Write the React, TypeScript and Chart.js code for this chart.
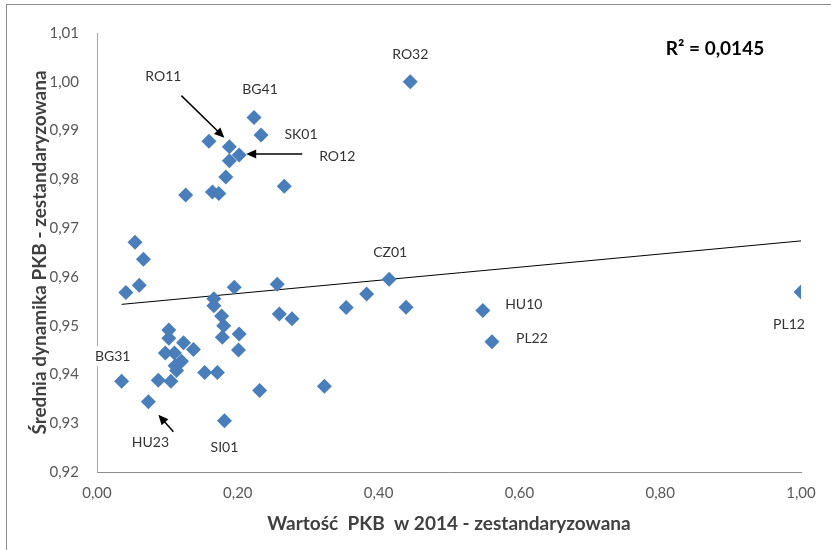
import React, { useEffect, useRef } from 'react';
import { Chart, registerables } from 'chart.js';

Chart.register(...registerables);

// ---- data ----
const regionLabels = [
  'RO32', 'BG41', 'SK01', '', 'RO11', 'RO12', '', '', '', '', '', '',
  '', '', '', '', '', '', '', '', 'CZ01', '', '', '', 'HU10', 'PL22', 'PL12',
  '', '', '', '', '', '', '', '', '', '', '', '', '', '', '', '',
  'BG31', '', '', '', '', 'HU23', 'SI01', '', '',
];
const gdp2014 = [
  0.445, 0.223, 0.233, 0.159, 0.188, 0.202, 0.188, 0.183, 0.266, 0.126, 0.164, 0.173,
  0.054, 0.066, 0.060, 0.041, 0.166, 0.166, 0.195, 0.256, 0.415, 0.383, 0.354, 0.439, 0.548, 0.561, 1.000,
  0.259, 0.277, 0.177, 0.180, 0.178, 0.202, 0.201, 0.102, 0.102, 0.123, 0.137, 0.097, 0.110, 0.120, 0.111, 0.113,
  0.035, 0.087, 0.105, 0.153, 0.171, 0.073, 0.181, 0.231, 0.323,
];
const gdpDynamics = [
  1.0000, 0.9927, 0.9891, 0.9878, 0.9867, 0.9850, 0.9838, 0.9805, 0.9786, 0.9768, 0.9774, 0.9771,
  0.9671, 0.9636, 0.9583, 0.9568, 0.9555, 0.9541, 0.9579, 0.9585, 0.9595, 0.9565, 0.9537, 0.9538, 0.9531, 0.9467, 0.9569,
  0.9524, 0.9514, 0.9520, 0.9500, 0.9476, 0.9483, 0.9450, 0.9491, 0.9474, 0.9465, 0.9451, 0.9444, 0.9444, 0.9427, 0.9418, 0.9408,
  0.9386, 0.9388, 0.9386, 0.9404, 0.9404, 0.9344, 0.9305, 0.9367, 0.9376,
];
const xTickValues = [0, 0.2, 0.4, 0.6, 0.8, 1.0];
const xTickLabels = ['0,00', '0,20', '0,40', '0,60', '0,80', '1,00'];
const yTickValues = [0.92, 0.93, 0.94, 0.95, 0.96, 0.97, 0.98, 0.99, 1.0, 1.01];
const yTickLabels = ['0,92', '0,93', '0,94', '0,95', '0,96', '0,97', '0,98', '0,99', '1,00', '1,01'];
const xAxisTitle = 'Wartość  PKB  w 2014 - zestandaryzowana';
const yAxisTitle = 'Średnia dynamika PKB - zestandaryzowana';
const r2Text = 'R² = 0,0145';

// ---- label placement (pixel offsets from the labelled point) ----
const labelPlacement: Record<string, { dx: number; dy: number; bg?: boolean; arrow?: [number, number, number, number] }> = {
  RO32: { dx: 0, dy: -27 },
  BG41: { dx: 6, dy: -28 },
  SK01: { dx: 40, dy: 0 },
  RO11: { dx: -66, dy: -70, arrow: [-48, -51, -5, -9] },
  RO12: { dx: 98, dy: 2, arrow: [63, -1, 7, -1] },
  CZ01: { dx: 1, dy: -27 },
  HU10: { dx: 41, dy: -6 },
  PL22: { dx: 40, dy: -3 },
  PL12: { dx: -12, dy: 32 },
  BG31: { dx: -9, dy: -25, bg: true },
  HU23: { dx: 2, dy: 41, arrow: [25, 30, 10, 13] },
  SI01: { dx: 0, dy: 27 },
};

const FONT = 'Lato, "Open Sans", sans-serif';

function regression(xs: number[], ys: number[]) {
  const n = xs.length;
  const mx = xs.reduce((a, b) => a + b, 0) / n;
  const my = ys.reduce((a, b) => a + b, 0) / n;
  let sxy = 0, sxx = 0;
  for (let i = 0; i < n; i++) {
    sxy += (xs[i] - mx) * (ys[i] - my);
    sxx += (xs[i] - mx) ** 2;
  }
  const b = sxy / sxx;
  return { a: my - b * mx, b };
}

const annotationPlugin = {
  id: 'pointAnnotations',
  afterDatasetsDraw(chart: any) {
    const ctx = chart.ctx as CanvasRenderingContext2D;
    const meta = chart.getDatasetMeta(1);
    ctx.save();
    ctx.font = `14px ${FONT}`;
    ctx.textAlign = 'center';
    ctx.textBaseline = 'middle';
    regionLabels.forEach((name, i) => {
      if (!name) return;
      const p = labelPlacement[name];
      const el = meta.data[i];
      if (!p || !el) return;
      const lx = el.x + p.dx;
      const ly = el.y + p.dy;
      if (p.bg) {
        const w = ctx.measureText(name).width + 6;
        ctx.fillStyle = '#ffffff';
        ctx.fillRect(lx - w / 2, ly - 10, w, 20);
      }
      ctx.fillStyle = '#333333';
      ctx.fillText(name, lx, ly);
      if (p.arrow) {
        const [sx, sy, tx, ty] = p.arrow;
        const x0 = el.x + sx, y0 = el.y + sy, x1 = el.x + tx, y1 = el.y + ty;
        const ang = Math.atan2(y1 - y0, x1 - x0);
        const head = 10, half = 4.5;
        ctx.strokeStyle = '#000000';
        ctx.lineWidth = 1.5;
        ctx.beginPath();
        ctx.moveTo(x0, y0);
        ctx.lineTo(x1 - Math.cos(ang) * head * 0.8, y1 - Math.sin(ang) * head * 0.8);
        ctx.stroke();
        ctx.fillStyle = '#000000';
        ctx.beginPath();
        ctx.moveTo(x1, y1);
        ctx.lineTo(x1 - Math.cos(ang) * head + Math.sin(ang) * half, y1 - Math.sin(ang) * head - Math.cos(ang) * half);
        ctx.lineTo(x1 - Math.cos(ang) * head - Math.sin(ang) * half, y1 - Math.sin(ang) * head + Math.cos(ang) * half);
        ctx.closePath();
        ctx.fill();
      }
    });
    const area = chart.chartArea;
    ctx.font = `bold 19px ${FONT}`;
    ctx.fillStyle = '#000000';
    ctx.fillText(r2Text, area.right - 86, area.top + 16);
    ctx.restore();
  },
};

export default function App() {
  const canvasRef = useRef<HTMLCanvasElement | null>(null);

  useEffect(() => {
    if (!canvasRef.current) return;
    const points = gdp2014.map((x, i) => ({ x, y: gdpDynamics[i] }));
    const { a, b } = regression(gdp2014, gdpDynamics);
    const minX = Math.min(...gdp2014);
    const maxX = Math.max(...gdp2014);
    const trend = [
      { x: minX, y: a + b * minX },
      { x: maxX, y: a + b * maxX },
    ];

    const chart = new Chart(canvasRef.current, {
      type: 'scatter',
      data: {
        datasets: [
          {
            type: 'line',
            label: 'Trend',
            data: trend,
            borderColor: '#000000',
            borderWidth: 1,
            pointRadius: 0,
            fill: false,
            order: 2,
          } as any,
          {
            label: 'Regiony',
            data: points,
            pointStyle: 'rectRot',
            pointRadius: 7.5,
            backgroundColor: '#4A7EBB',
            borderColor: '#4A7EBB',
            borderWidth: 0,
            order: 1,
          },
        ],
      },
      options: {
        animation: false,
        responsive: false,
        maintainAspectRatio: false,
        layout: { padding: { left: 20, top: 33, right: 30, bottom: 10 } },
        plugins: {
          legend: { display: false },
          tooltip: { enabled: false },
        },
        scales: {
          x: {
            type: 'linear',
            min: 0,
            max: 1,
            afterBuildTicks: (scale: any) => {
              scale.ticks = xTickValues.map((v) => ({ value: v }));
            },
            afterFit: (scale: any) => {
              scale.height = 68;
            },
            ticks: {
              padding: 12,
              color: '#595959',
              font: { family: FONT, size: 15 },
              callback: (v: any) => {
                const i = xTickValues.findIndex((t) => Math.abs(t - Number(v)) < 1e-9);
                return i >= 0 ? xTickLabels[i] : '';
              },
            },
            grid: { display: false, drawTicks: false },
            border: { display: true, color: '#8c8c8c', width: 1 },
            title: {
              display: true,
              text: xAxisTitle,
              color: '#404040',
              font: { family: FONT, size: 19, weight: 'bold' },
              padding: { top: 0, bottom: 5 },
            },
          },
          y: {
            type: 'linear',
            min: 0.92,
            max: 1.01,
            afterBuildTicks: (scale: any) => {
              scale.ticks = yTickValues.map((v) => ({ value: v }));
            },
            afterFit: (scale: any) => {
              scale.width = 77;
            },
            ticks: {
              padding: 18,
              color: '#595959',
              font: { family: FONT, size: 15 },
              callback: (v: any) => {
                const i = yTickValues.findIndex((t) => Math.abs(t - Number(v)) < 1e-9);
                return i >= 0 ? yTickLabels[i] : '';
              },
            },
            grid: { display: false, drawTicks: false },
            border: { display: true, color: '#a6a6a6', width: 1 },
            title: {
              display: true,
              text: yAxisTitle,
              color: '#404040',
              font: { family: FONT, size: 19, weight: 'bold' },
              padding: { top: 8, bottom: 0 },
            },
          },
        },
      },
      plugins: [annotationPlugin],
    });
    return () => chart.destroy();
  }, []);

  return (
    <div style={{ position: 'fixed', left: 0, top: 0, width: 831, height: 550, background: '#ffffff' }}>
      <div
        style={{
          position: 'absolute',
          left: 6,
          top: 4,
          right: 0,
          bottom: 0,
          borderLeft: '1px solid #8c8c8c',
          borderTop: '1px solid #8c8c8c',
        }}
      />
      <canvas ref={canvasRef} width={831} height={550} style={{ position: 'absolute', left: 0, top: 0 }} />
    </div>
  );
}
